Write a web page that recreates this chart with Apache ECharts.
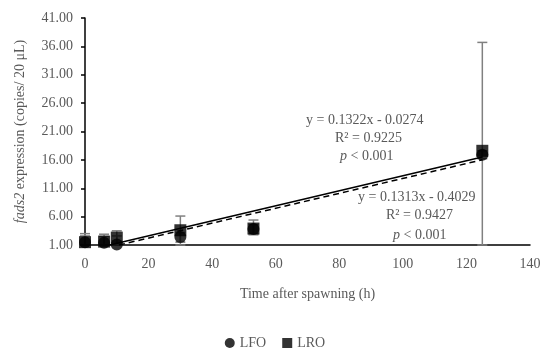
<!DOCTYPE html>
<html><head><meta charset="utf-8">
<script src="https://cdn.jsdelivr.net/npm/echarts@6/dist/echarts.min.js"></script>
<style>html,body{margin:0;padding:0;background:#fff}#c{width:550px;height:363px}</style>
</head><body><div id="c"></div>
<script>
// Data
const times = [0, 6, 10, 30, 53, 125];
const lfoMean = [1.5, 1.4, 1.1, 2.4, 3.8, 16.9];
const lfoUpper = [2.6, 2.5, 2.6, 3.2, 4.6, 17.6];
const lfoLower = [1.0, 1.0, 1.0, 1.0, 3.0, 16.2];
const lroMean = [1.5, 1.6, 2.3, 3.6, 3.9, 17.6];
const lroUpper = [3.0, 2.9, 3.5, 6.1, 5.4, 36.7];
const lroLower = [1.0, 1.0, 1.2, 1.5, 2.8, 1.0];
// trendline coefficients [slope, intercept]
const lfoTrend = [0.1322, -0.0274];
const lroTrend = [0.1313, -0.4029];
const yTicks = {min: 1, max: 41, interval: 5};
const xTicks = {min: 0, max: 140, interval: 20};

const FONT = 'Liberation Serif';
const GREY = '#595959';

function trendPts(c) {
  const x0 = (yTicks.min - c[1]) / c[0];
  const x1 = times[times.length - 1];
  return [[x0, c[0]*x0 + c[1]], [x1, c[0]*x1 + c[1]]];
}
function errData(mean, up, lo) {
  return times.map((t, i) => [t, lo[i], up[i]]);
}
function errRender(params, api) {
  const x = api.value(0);
  const lo = api.coord([x, api.value(1)]);
  const hi = api.coord([x, api.value(2)]);
  const w = 5;
  const st = {stroke: '#808080', lineWidth: 1.5};
  return {type: 'group', children: [
    {type: 'line', shape: {x1: lo[0], y1: lo[1], x2: hi[0], y2: hi[1]}, style: st},
    {type: 'line', shape: {x1: hi[0]-w, y1: hi[1], x2: hi[0]+w, y2: hi[1]}, style: st},
    {type: 'line', shape: {x1: lo[0]-w, y1: lo[1], x2: lo[0]+w, y2: lo[1]}, style: st}
  ]};
}

const chart = echarts.init(document.getElementById('c'));
chart.setOption({
  animation: false,
  backgroundColor: '#fff',
  textStyle: {fontFamily: FONT},
  grid: {left: 85, right: 20, top: 18, bottom: 118},
  xAxis: {
    type: 'value', min: xTicks.min, max: xTicks.max, interval: xTicks.interval,
    name: 'Time after spawning (h)', nameLocation: 'middle', nameGap: 42,
    nameTextStyle: {fontFamily: FONT, fontSize: 14, color: GREY},
    axisLine: {lineStyle: {color: '#000', width: 1.5}},
    axisTick: {show: false},
    splitLine: {show: false},
    axisLabel: {fontFamily: FONT, fontSize: 14, color: GREY, margin: 12}
  },
  yAxis: {
    type: 'value', min: yTicks.min, max: yTicks.max, interval: yTicks.interval,
    name: '{i|fads2} expression (copies/ 20 μL)', nameLocation: 'middle', nameGap: 58,
    nameTextStyle: {fontFamily: FONT, fontSize: 14, color: GREY,
      rich: {i: {fontStyle: 'italic', fontFamily: FONT, fontSize: 14, color: GREY}}},
    axisLine: {show: true, lineStyle: {color: '#000', width: 1.5}},
    axisTick: {show: true, length: 4, lineStyle: {color: '#000', width: 1.5}},
    splitLine: {show: false},
    axisLabel: {fontFamily: FONT, fontSize: 14, color: GREY, margin: 12,
      formatter: v => v.toFixed(2)}
  },
  legend: {
    bottom: 8, left: 'center', itemWidth: 10, itemHeight: 10, itemGap: 16,
    textStyle: {fontFamily: FONT, fontSize: 14, color: GREY},
    data: [{name: 'LFO', icon: 'circle'}, {name: 'LRO', icon: 'rect'}]
  },
  series: [
    {type: 'custom', name: 'errLFO', renderItem: errRender, data: errData(lfoMean, lfoUpper, lfoLower), z: 1, silent: true},
    {type: 'custom', name: 'errLRO', renderItem: errRender, data: errData(lroMean, lroUpper, lroLower), z: 1, silent: true},
    {type: 'line', name: 'trendLFO', data: trendPts(lfoTrend), symbol: 'none', z: 3,
      lineStyle: {color: '#000', width: 1.5, type: 'solid'}},
    {type: 'line', name: 'trendLRO', data: trendPts(lroTrend), symbol: 'none', z: 3,
      lineStyle: {color: '#000', width: 1.5, type: [6, 4]}},
    {type: 'scatter', name: 'LFO', symbol: 'circle', symbolSize: 12, z: 4,
      itemStyle: {color: '#000'}, data: times.map((t, i) => [t, lfoMean[i]])},
    {type: 'scatter', name: 'LRO', symbol: 'rect', symbolSize: 12, z: 5,
      itemStyle: {color: '#000'}, data: times.map((t, i) => [t, lroMean[i]])}
  ],
  graphic: [
    {type: 'text', left: 306, top: 113, style: {text: 'y = 0.1322x - 0.0274', font: '14px "Liberation Serif"', fill: GREY}},
    {type: 'text', left: 335, top: 131, style: {text: 'R² = 0.9225', font: '14px "Liberation Serif"', fill: GREY}},
    {type: 'text', left: 340, top: 149, style: {text: '{i|p} < 0.001', font: '14px "Liberation Serif"', fill: GREY,
      rich: {i: {fontStyle: 'italic', fontFamily: FONT, fontSize: 14, fill: GREY}}}},
    {type: 'text', left: 358, top: 190, style: {text: 'y = 0.1313x - 0.4029', font: '14px "Liberation Serif"', fill: GREY}},
    {type: 'text', left: 386, top: 208, style: {text: 'R² = 0.9427', font: '14px "Liberation Serif"', fill: GREY}},
    {type: 'text', left: 393, top: 228, style: {text: '{i|p} < 0.001', font: '14px "Liberation Serif"', fill: GREY,
      rich: {i: {fontStyle: 'italic', fontFamily: FONT, fontSize: 14, fill: GREY}}}}
  ]
});
</script>
</body></html>
